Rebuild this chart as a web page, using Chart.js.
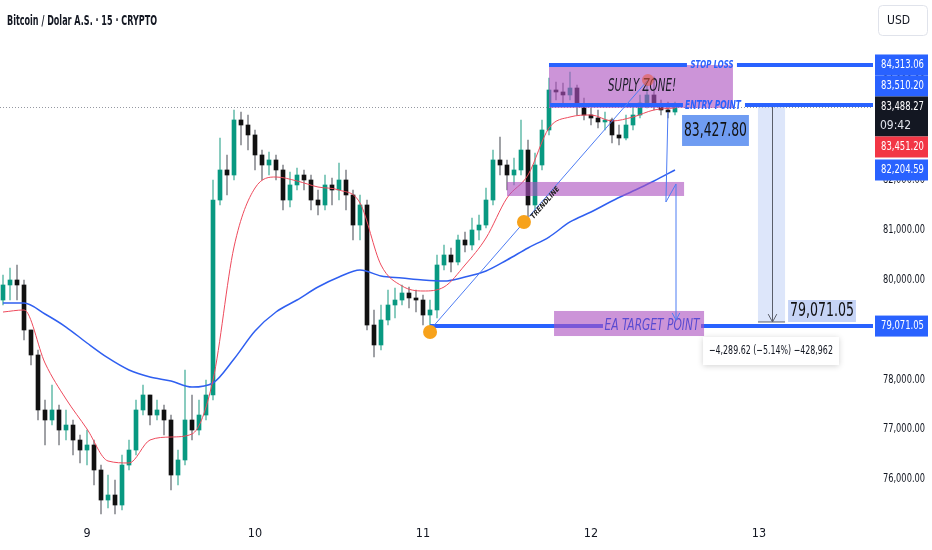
<!DOCTYPE html>
<html>
<head>
<meta charset="utf-8">
<script src="https://cdn.jsdelivr.net/npm/chart.js@4.4.1/dist/chart.umd.min.js"></script>
<style>
  html, body { margin: 0; padding: 0; background: #fff; }
</style>
</head>
<body>
<canvas id="btc" width="932" height="550"></canvas>
<script>
// x axis is in days of the month, y axis in USD
const dayTicks = [9, 10, 11, 12, 13];
const priceTicks = [76000, 77000, 78000, 79000, 80000, 81000, 82000, 83000, 84000, 85000];

// hourly candles, first one at 12:00 on the 8th
const firstCandleDay = 8.5;
const candleStep = 1 / 24;

const openVals = [
  79594, 79896, 79996, 79896, 78992, 78490, 77386, 77185, 77386, 76984,
  77084, 76783, 76582, 76683, 76181, 75578, 75679, 75478, 76281, 76582,
  77386, 77687, 77285, 77386, 77185, 76080, 76382, 77185, 76984, 77285,
  77687, 81602, 82205, 82104, 83209, 83108, 82908, 82506, 82305, 82406,
  82205, 81602, 81904, 82104, 82004, 81602, 81502, 81904, 81803, 82004,
  81703, 81100, 81502, 79092, 78691, 79193, 79494, 79594, 79735, 79635,
  79594, 79293, 79394, 80297, 80498, 80357, 80799, 80699, 81000, 81100,
  81602, 82406, 82305, 82104, 82205, 82606, 81502, 82305, 83008, 83811,
  83771, 83711, 83851, 83510, 83309, 83249, 83169, 83209, 82908, 82847,
  83108, 83309, 83550, 83711, 83510, 83410, 83369
];
const highVals = [
  80096, 80237, 80297, 79996, 78992, 78590, 77586, 77888, 77486, 77386,
  77185, 76884, 76984, 76783, 76281, 76080, 75980, 76482, 76783, 77586,
  77888, 77687, 77586, 77486, 77285, 76582, 78189, 77687, 77586, 77988,
  82004, 82847, 82506, 83410, 83369, 83309, 83008, 82606, 82566, 82506,
  82305, 82165, 82245, 82205, 82104, 81803, 82104, 82044, 82345, 82205,
  81803, 81703, 81602, 79394, 79494, 79795, 79835, 79896, 79855, 79795,
  79695, 79594, 80498, 80699, 80639, 80900, 80960, 81241, 81301, 81843,
  82606, 82867, 82406, 82446, 83209, 82807, 82546, 83209, 84052, 83972,
  83952, 84173, 83912, 83651, 83450, 83410, 83369, 83249, 83108, 83309,
  83510, 83711, 83912, 84072, 83610, 83570, 83570
];
const lowVals = [
  79494, 79594, 79594, 78791, 78289, 77185, 76683, 77084, 76683, 76783,
  76482, 76321, 76281, 75880, 75297, 75418, 75297, 75378, 76181, 76482,
  77285, 77084, 77185, 76884, 75779, 75880, 76281, 76783, 76884, 77185,
  77586, 81502, 81703, 82004, 82707, 82606, 82205, 82004, 82104, 82004,
  81402, 81462, 81803, 81803, 81402, 81301, 81402, 81502, 81602, 81402,
  80799, 80799, 78992, 78450, 78590, 79092, 79233, 79494, 79434, 79353,
  79092, 79071, 79233, 80197, 80157, 80297, 80558, 80598, 80799, 81040,
  81502, 82104, 81803, 81904, 82104, 81161, 81402, 82205, 82908, 83610,
  83550, 83610, 83309, 83209, 83108, 83048, 83008, 82747, 82707, 82807,
  83008, 83249, 83450, 83410, 83309, 83249, 83309
];
const closeVals = [
  79896, 79996, 79896, 78992, 78490, 77386, 77185, 77386, 76984, 77084,
  76783, 76582, 76683, 76181, 75578, 75679, 75478, 76281, 76582, 77386,
  77687, 77285, 77386, 77185, 76080, 76382, 77185, 76984, 77285, 77687,
  81602, 82205, 82104, 83209, 83108, 82908, 82506, 82305, 82406, 82205,
  81602, 81904, 82104, 82004, 81602, 81502, 81904, 81803, 82004, 81703,
  81100, 81502, 79092, 78691, 79193, 79494, 79594, 79735, 79635, 79594,
  79293, 79394, 80297, 80498, 80357, 80799, 80699, 81000, 81100, 81602,
  82406, 82305, 82104, 82205, 82606, 81502, 82305, 83008, 83811, 83771,
  83711, 83851, 83510, 83309, 83249, 83169, 83209, 82908, 82847, 83108,
  83309, 83550, 83711, 83510, 83410, 83369, 83488
];

// moving averages read every 3 candles
const maStep = 3;
const emaVals = [
  79353, 79394, 78329, 77606, 77004, 76362, 76322, 76783, 76843, 76904,
  77988, 80659, 81843, 82064, 81984, 81863, 81803, 81542, 80297, 79876,
  79775, 79855, 80297, 80839, 81643, 82104, 83048, 83269, 83309, 83189,
  83269, 83410, 83450
];
const smaVals = [
  79534, 79534, 79313, 79052, 78731, 78430, 78189, 78048, 77968, 77847,
  77928, 78410, 78972, 79353, 79594, 79855, 80056, 80197, 80076, 80036,
  79996, 79976, 80056, 80177, 80398, 80639, 80859, 81161, 81361, 81582,
  81783, 81984, 82205
];

// levels drawn on the chart
const stopLoss = 84313.06;
const entryLevel = 83510.20;
const lastPrice = 83488.27;
const lastTime = "09:42";
const bidPrice = 83451.20;
const smaLast = 82204.59;
const targetLevel = 79071.05;
const entryTag = 83427.80;
const moveText = "\u22124,289.62 (\u22125.14%) \u2212428,962";
const titleText = "Bitcoin / Dolar A.S. \u00b7 15 \u00b7 CRYPTO";

const NARROW = "'Liberation Sans Narrow', 'DejaVu Sans Condensed', 'Liberation Sans', sans-serif";
const BLUE = '#2962ff';
const THIN_BLUE = '#4d7cf3';
const PURPLE = 'rgba(172, 82, 192, 0.62)';

const fmt = v => v.toLocaleString('en-US', { minimumFractionDigits: 2, maximumFractionDigits: 2 });

const candleDays = openVals.map((_, i) => firstCandleDay + i * candleStep);
const isUp = closeVals.map((c, i) => c >= openVals[i]);

function seg(ctx, x1, y1, x2, y2) {
  ctx.beginPath(); ctx.moveTo(x1, y1); ctx.lineTo(x2, y2); ctx.stroke();
}
function head(ctx, x, y, ang, len) {
  ctx.beginPath();
  ctx.moveTo(x - len * Math.cos(ang - 0.5), y - len * Math.sin(ang - 0.5));
  ctx.lineTo(x, y);
  ctx.lineTo(x - len * Math.cos(ang + 0.5), y - len * Math.sin(ang + 0.5));
  ctx.stroke();
}
function label(ctx, str, x, y, font, color, maxW) {
  ctx.font = font; ctx.fillStyle = color;
  ctx.textAlign = 'center'; ctx.textBaseline = 'middle';
  ctx.fillText(str, x, y, maxW);
}

// all drawings the author put on the chart
const drawings = {
  id: 'drawings',
  afterDatasetsDraw(chart) {
    const { ctx, chartArea: a, scales: { x, y } } = chart;
    const X = v => x.getPixelForValue(v);
    const Y = v => y.getPixelForValue(v);
    const rect = (d1, p1, d2, p2) => {
      const x1 = X(d1), y1 = Y(p1);
      ctx.fillRect(x1, y1, X(d2) - x1, Y(p2) - y1);
    };

    ctx.save();
    ctx.beginPath(); ctx.rect(a.left, a.top, a.right - a.left, a.bottom - a.top); ctx.clip();

    // dotted last price line
    ctx.strokeStyle = '#9598a1'; ctx.lineWidth = 1; ctx.setLineDash([1, 2]);
    const ly = Math.round(Y(lastPrice)) + 1.5;
    seg(ctx, a.left, ly, a.right, ly);
    ctx.setLineDash([]);

    // target line, under the purple box
    ctx.strokeStyle = BLUE; ctx.lineWidth = 4;
    const ty = Y(targetLevel);
    seg(ctx, X(11.042), ty, X(12.363) - 49, ty);
    seg(ctx, X(12.363) + 49, ty, a.right, ty);

    // purple zones
    ctx.fillStyle = PURPLE;
    rect(11.5, 81964, 12.554, 81683);
    rect(11.75, stopLoss, 12.845, 83450);
    rect(11.78, 79374, 12.673, 78871);

    // measure tool
    ctx.fillStyle = 'rgba(187, 205, 246, 0.5)';
    rect(12.994, entryLevel, 13.155, 79153);
    ctx.strokeStyle = '#5a5e6a'; ctx.lineWidth = 1;
    const mx = Math.round(X(13.077)) + 0.5;
    seg(ctx, mx, Y(entryLevel), mx, Y(79153));
    head(ctx, mx, Y(79153), Math.PI / 2, 9);
    seg(ctx, X(12.994), Y(79153), X(13.155), Y(79153));

    // stop loss and entry lines with their names
    ctx.strokeStyle = BLUE; ctx.lineWidth = 4;
    const sy = Y(stopLoss), ey = Y(entryLevel);
    seg(ctx, X(11.75), sy, X(12.72) - 25, sy);
    seg(ctx, X(12.72) + 25, sy, a.right, sy);
    seg(ctx, X(11.756), ey, X(12.726) - 30, ey);
    seg(ctx, X(12.726) + 32, ey, a.right, ey);
    label(ctx, 'STOP LOSS', X(12.72), sy, 'italic bold 11px ' + NARROW, BLUE, 43);
    label(ctx, 'ENTRY POINT', X(12.726), ey + 1, 'italic 600 12px ' + NARROW, BLUE, 56);
    label(ctx, 'SUPLY ZONE!', X(12.304), Y(83892), 'italic 18px ' + NARROW, '#1e1f2a', 68);
    label(ctx, 'EA TARGET POINT', X(12.363), ty, 'italic 16px ' + NARROW, '#5a4bd1', 95);

    // entry price tag
    ctx.fillStyle = '#6f9cf2';
    rect(12.542, 83309, 12.940, 82687);
    label(ctx, fmt(entryTag), X(12.741), Y(82998), '20px ' + NARROW, '#111', 63);

    // target price tag
    ctx.fillStyle = '#c6d4f6';
    rect(13.173, 79594, 13.577, 79153);
    label(ctx, fmt(targetLevel), X(13.375), Y(79374), '20px ' + NARROW, '#111', 64);

    // move summary box
    ctx.save();
    ctx.shadowColor = 'rgba(0,0,0,0.18)'; ctx.shadowBlur = 6; ctx.shadowOffsetY = 1;
    ctx.fillStyle = '#fff';
    rect(12.667, 78851, 13.476, 78289);
    ctx.restore();
    label(ctx, moveText, X(13.071), Y(78570), '12px ' + NARROW, '#131722', 124);

    // trendline and path arrow
    ctx.strokeStyle = THIN_BLUE; ctx.lineWidth = 1;
    const t1 = [X(11.042), Y(78992)], t2 = [X(12.339), Y(84012)];
    seg(ctx, t1[0], t1[1], t2[0], t2[1]);
    ctx.beginPath();
    ctx.moveTo(X(12.458), Y(83369));
    ctx.lineTo(X(12.446), Y(81562));
    ctx.lineTo(X(12.506), Y(81924));
    ctx.lineTo(X(12.506), Y(79193));
    ctx.stroke();
    head(ctx, X(12.506), Y(79193), Math.PI / 2, 8);

    // pivot circles
    ctx.fillStyle = '#f7a21b';
    [[11.042, 78952], [11.601, 81161]].forEach(([d, p]) => {
      ctx.beginPath(); ctx.arc(X(d), Y(p), 7, 0, Math.PI * 2); ctx.fill();
    });
    ctx.fillStyle = 'rgba(235, 85, 60, 0.55)';
    ctx.beginPath(); ctx.arc(X(12.339), Y(84012), 6, 0, Math.PI * 2); ctx.fill();

    // trendline name along the line
    ctx.save();
    ctx.translate(X(11.708), Y(81602));
    ctx.rotate(Math.atan2(t2[1] - t1[1], t2[0] - t1[0]));
    ctx.font = 'italic bold 7px ' + NARROW; ctx.fillStyle = '#222';
    ctx.textAlign = 'center'; ctx.textBaseline = 'top';
    ctx.fillText('TRENDLINE', 0, 1);
    ctx.restore();

    ctx.restore();
  },
  afterDraw(chart) {
    const { ctx, chartArea: a, scales: { y } } = chart;

    // price scale labels (narrowed to fit the axis like the original)
    ctx.font = '12px ' + NARROW; ctx.fillStyle = '#131722';
    ctx.textAlign = 'left'; ctx.textBaseline = 'middle';
    y.ticks.forEach(t => {
      ctx.fillText(fmt(t.value), a.right + 10, y.getPixelForValue(t.value), 42);
    });

    // price tags on the right axis, stacked like TradingView does
    const tags = [
      { v: stopLoss, bg: BLUE },
      { v: entryLevel, bg: BLUE, stack: true },
      { v: lastPrice, bg: '#131722', stack: true, sub: lastTime },
      { v: bidPrice, bg: '#f23645', stack: true },
      { v: smaLast, bg: BLUE },
      { v: targetLevel, bg: BLUE }
    ];
    let prevBottom = -Infinity;
    const x0 = a.right + 2, w = 53;
    tags.forEach(t => {
      const h = t.sub ? 40 : 21;
      let top = y.getPixelForValue(t.v) - 10.5;
      if (t.stack || top < prevBottom) top = prevBottom;
      ctx.fillStyle = t.bg;
      ctx.fillRect(x0, top, w, h);
      label(ctx, fmt(t.v), x0 + w / 2 + 1, top + 10.5, '12px ' + NARROW, '#fff', 43);
      if (t.sub) {
        ctx.textAlign = 'left';
        ctx.font = '12px ' + NARROW; ctx.fillStyle = '#e0e3eb';
        ctx.fillText(t.sub, x0 + 5, top + 29);
      }
      prevBottom = top + h;
    });

    // currency box
    ctx.fillStyle = '#fff'; ctx.strokeStyle = '#e0e3eb'; ctx.lineWidth = 1;
    ctx.beginPath(); ctx.roundRect(878.5, 5.5, 49, 30, 4); ctx.fill(); ctx.stroke();
    ctx.font = '12px ' + NARROW; ctx.fillStyle = '#131722';
    ctx.textAlign = 'left'; ctx.textBaseline = 'middle';
    ctx.fillText('USD', 887, 21);

    // symbol title
    ctx.font = '600 14px ' + NARROW; ctx.fillStyle = '#131722';
    ctx.fillText(titleText, 7, 21, 150);
  }
};

const chartCanvas = document.getElementById('btc');

new Chart(chartCanvas, {
  type: 'bar',
  data: {
    datasets: [
      {
        label: 'wicks',
        data: candleDays.map((d, i) => ({ x: d, y: [lowVals[i], highVals[i]] })),
        backgroundColor: isUp.map(u => u ? '#72c2b2' : '#8d8f94'),
        barThickness: 1,
        grouped: false,
        order: 4
      },
      {
        label: 'bodies',
        data: candleDays.map((d, i) => ({ x: d, y: [openVals[i], closeVals[i]] })),
        backgroundColor: isUp.map(u => u ? '#089981' : '#111111'),
        barThickness: 4,
        minBarLength: 1,
        grouped: false,
        order: 3
      },
      {
        type: 'line',
        label: 'MA slow',
        data: smaVals.map((v, k) => ({ x: firstCandleDay + k * maStep * candleStep, y: v })),
        borderColor: '#2f5ff0',
        borderWidth: 1.5,
        pointRadius: 0,
        cubicInterpolationMode: 'monotone',
        order: 2
      },
      {
        type: 'line',
        label: 'MA fast',
        data: emaVals.map((v, k) => ({ x: firstCandleDay + k * maStep * candleStep, y: v })),
        borderColor: '#ee4a5c',
        borderWidth: 1,
        pointRadius: 0,
        cubicInterpolationMode: 'monotone',
        order: 1
      }
    ]
  },
  options: {
    responsive: false,
    animation: false,
    layout: { padding: 0 },
    plugins: { legend: { display: false }, tooltip: { enabled: false } },
    scales: {
      x: {
        type: 'linear',
        offset: false,
        min: 8.4821,
        max: 13.6786,
        grid: { display: false, drawTicks: false },
        border: { display: false },
        afterBuildTicks: s => { s.ticks = dayTicks.map(v => ({ value: v })); },
        afterFit: s => { s.height = 30; s.paddingLeft = 0; s.paddingRight = 0; },
        ticks: {
          padding: 6,
          maxRotation: 0,
          color: '#131722',
          font: { family: NARROW, size: 12.5 },
          callback: v => String(v)
        }
      },
      y: {
        position: 'right',
        min: 75177,
        max: 85618,
        grid: { display: false, drawTicks: false },
        border: { display: false },
        afterBuildTicks: s => { s.ticks = priceTicks.map(v => ({ value: v })); },
        afterFit: s => { s.width = 59; s.paddingTop = 0; s.paddingBottom = 0; },
        ticks: { display: false }
      }
    }
  },
  plugins: [drawings]
});
</script>
</body>
</html>
